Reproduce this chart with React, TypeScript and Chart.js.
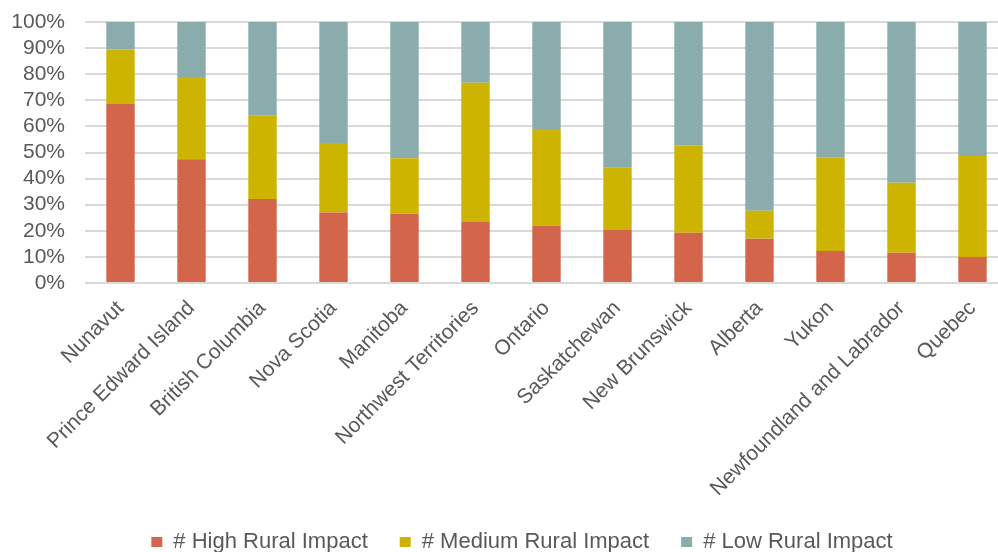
import { useEffect, useRef } from "react";
import { Chart, registerables } from "chart.js";

Chart.register(...registerables);

// Provinces and territories, ordered by share of high rural impact
const provinces = [
  "Nunavut",
  "Prince Edward Island",
  "British Columbia",
  "Nova Scotia",
  "Manitoba",
  "Northwest Territories",
  "Ontario",
  "Saskatchewan",
  "New Brunswick",
  "Alberta",
  "Yukon",
  "Newfoundland and Labrador",
  "Quebec",
];

// Share of each province's total (%)
const highImpact = [68.8, 47.4, 32.2, 27.0, 26.5, 23.4, 22.0, 20.3, 19.3, 17.0, 12.3, 11.6, 10.0];
const mediumImpact = [20.8, 31.5, 32.1, 26.6, 21.3, 53.3, 37.0, 23.9, 33.4, 10.7, 35.9, 26.8, 38.7];
const lowImpact = [10.4, 21.1, 35.7, 46.4, 52.2, 23.3, 41.0, 55.8, 47.3, 72.3, 51.8, 61.6, 51.3];

const seriesNames = ["# High Rural Impact", "# Medium Rural Impact", "# Low Rural Impact"];
const seriesColors = ["#D2654A", "#CDB400", "#8BACAD"];

const FONT = "'Liberation Sans', Arial, sans-serif";
const TEXT = "#595959";

// Nudges the bottom legend after layout so it sits centred under the full figure
const legendOffset = {
  id: "legendOffset",
  afterLayout(chart: any) {
    const lg = chart.legend;
    if (!lg) return;
    const dx = 18;
    const dy = -6;
    lg.left += dx;
    lg.right += dx;
    lg.top += dy;
    lg.bottom += dy;
  },
};

export default function App() {
  const canvasRef = useRef<HTMLCanvasElement>(null);

  useEffect(() => {
    const canvas = canvasRef.current;
    if (!canvas) return;
    const chart = new Chart(canvas, {
      type: "bar",
      data: {
        labels: provinces,
        datasets: [highImpact, mediumImpact, lowImpact].map((values, i) => ({
          label: seriesNames[i],
          data: values,
          backgroundColor: seriesColors[i],
          borderWidth: 0,
          barPercentage: 0.4,
          categoryPercentage: 1,
        })),
      },
      options: {
        responsive: false,
        animation: false,
        devicePixelRatio: 1,
        layout: { padding: { left: 0, right: 0, top: 22, bottom: 0 } },
        plugins: {
          tooltip: { enabled: false },
          legend: {
            position: "bottom",
            labels: {
              boxWidth: 11,
              boxHeight: 10,
              padding: 32,
              color: TEXT,
              font: { family: FONT, size: 22 },
            },
          },
        },
        scales: {
          x: {
            stacked: true,
            grid: { display: false, drawTicks: false },
            border: { display: false },
            ticks: {
              autoSkip: false,
              minRotation: 45,
              maxRotation: 45,
              padding: 13,
              color: TEXT,
              font: { family: FONT, size: 21 },
            },
            afterFit: (scale: any) => {
              scale.height = 222;
            },
          },
          y: {
            stacked: true,
            min: 0,
            max: 100,
            grid: {
              color: "#D9D9D9",
              lineWidth: 2,
              drawTicks: true,
              tickLength: 20,
              tickColor: "rgba(0,0,0,0)",
            },
            border: { display: false },
            ticks: {
              autoSkip: false,
              stepSize: 10,
              padding: 0,
              color: TEXT,
              font: { family: FONT, size: 21 },
              callback: (v: any) => `${v}%`,
            },
            afterFit: (scale: any) => {
              scale.width = 85;
            },
          },
        },
      },
      plugins: [legendOffset],
    });
    return () => chart.destroy();
  }, []);

  return (
    <div
      style={{
        position: "fixed",
        left: 0,
        top: 0,
        width: "100vw",
        height: "100vh",
        overflow: "hidden",
        background: "#fff",
      }}
    >
      <canvas
        ref={canvasRef}
        width={1008}
        height={569}
        style={{ display: "block", width: 1008, height: 569 }}
      />
    </div>
  );
}
